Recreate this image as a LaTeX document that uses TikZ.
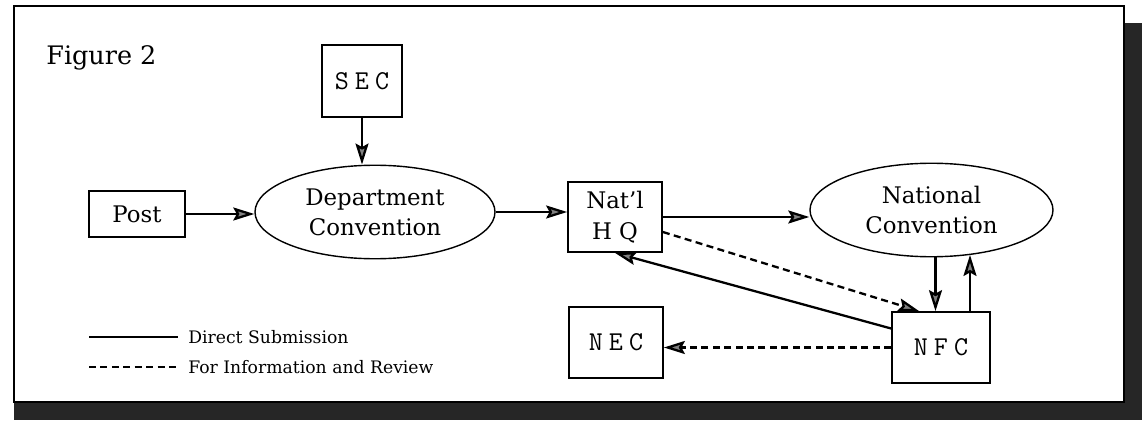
\documentclass[tikz,border=0pt]{standalone}
\usepackage{fontspec}
\setmainfont{DejaVu Serif}
\usepackage{tikz}
\usetikzlibrary{shapes.geometric, arrows.meta, positioning, calc}
\tikzset{
    ubox/.style={rectangle, draw=black, line width=1pt, fill=white,
                 align=center, inner sep=0pt,
                 font=\fontsize{13}{18}\selectfont},
    mbox/.style={rectangle, draw=black, line width=1pt, fill=white,
                 align=center, inner sep=0pt,
                 font=\ttfamily\fontsize{15.5}{18}\selectfont},
    conv/.style={ellipse, draw=black, line width=0.8pt, fill=white,
                 align=center, inner sep=0pt,
                 minimum width=4.8cm, minimum height=1.87cm,
                 font=\fontsize{13}{17}\selectfont},
    keytext/.style={anchor=west, inner sep=0pt, font=\fontsize{9.8}{11}\selectfont},
    arr/.style={-{Stealth[length=0.42cm, width=0.26cm, inset=0.07cm, fill=gray]},
                line width=1.3pt, draw=black},
    darr/.style={arr, dash pattern=on 4pt off 2.5pt}
}
\newcommand{\gap}{\hspace{.22em}}

\begin{document}
\begin{tikzpicture}
\useasboundingbox (0,0) rectangle (22.88,-8.46);

% ── Frame with shadow ─────────────────────────────────────────────────
\fill[black!85] (0.28,-0.46) rectangle (22.84,-8.40);
\draw[line width=1.6pt, fill=white] (0.28,-0.12) rectangle (22.48,-8.04);

\node[anchor=base west, inner sep=0pt, font=\fontsize{14.5}{16}\selectfont]
     at (0.92,-1.30) (title) {Figure 2};

% ── Upper row ─────────────────────────────────────────────────────────
\node[mbox, minimum width=1.6cm,  minimum height=1.44cm] at (7.24,-1.62)  (sec)  {S\gap E\gap C};
\node[ubox, minimum width=1.92cm, minimum height=0.92cm] at (2.74,-4.28)  (post) {Post};
\node[conv] at (7.50,-4.24)  (dept)    {Department\\Convention};
\node[ubox, minimum width=1.88cm, minimum height=1.40cm] at (12.30,-4.34) (hq)   {Nat'l\\H Q};
\node[conv, minimum width=4.86cm] at (18.63,-4.20) (natconv) {National\\Convention};

% ── Lower row ─────────────────────────────────────────────────────────
\node[mbox, minimum width=1.88cm, minimum height=1.42cm] at (12.32,-6.85) (nec) {N\gap E\gap C};
\node[mbox, minimum width=1.96cm, minimum height=1.42cm] at (18.82,-6.95) (nfc) {N\gap F\gap C};

% ── Direct submission ─────────────────────────────────────────────────
\draw[arr] (sec.south) -- (sec.south |- dept.north);
\draw[arr] (post.east) -- (post.east -| dept.west);
\draw[arr] (dept.east) -- (dept.east -| hq.west);
\draw[arr] (hq.east)   -- (hq.east -| natconv.west);
\draw[arr] ([xshift=0.08cm]natconv.south) -- ([xshift=0.08cm]natconv.south |- nfc.north);
\draw[arr] ([xshift=0.58cm]nfc.north) -- ([xshift=0.58cm]nfc.north |- natconv.-49);
\draw[arr] ([yshift=0.38cm]nfc.west) -- (hq.south);

% ── For information and review ────────────────────────────────────────
\draw[darr] ([yshift=-0.30cm]hq.east) -- ([xshift=0.56cm]nfc.north west);
\draw[darr] (nfc.west) -- (nfc.west -| nec.east);

% ── Legend ────────────────────────────────────────────────────────────
\coordinate (k1a) at (1.78,-6.74);
\coordinate (k1b) at (3.56,-6.74);
\coordinate (k2a) at (1.78,-7.34);
\coordinate (k2b) at (3.56,-7.34);
\draw[line width=1.3pt] (k1a) -- (k1b);
\draw[line width=1.3pt, dash pattern=on 4pt off 2.5pt] (k2a) -- (k2b);
\node[keytext] at ([xshift=0.2cm]k1b) (k1) {Direct Submission};
\node[keytext] at ([xshift=0.2cm]k2b) (k2) {For Information and Review};
\end{tikzpicture}
\end{document}
